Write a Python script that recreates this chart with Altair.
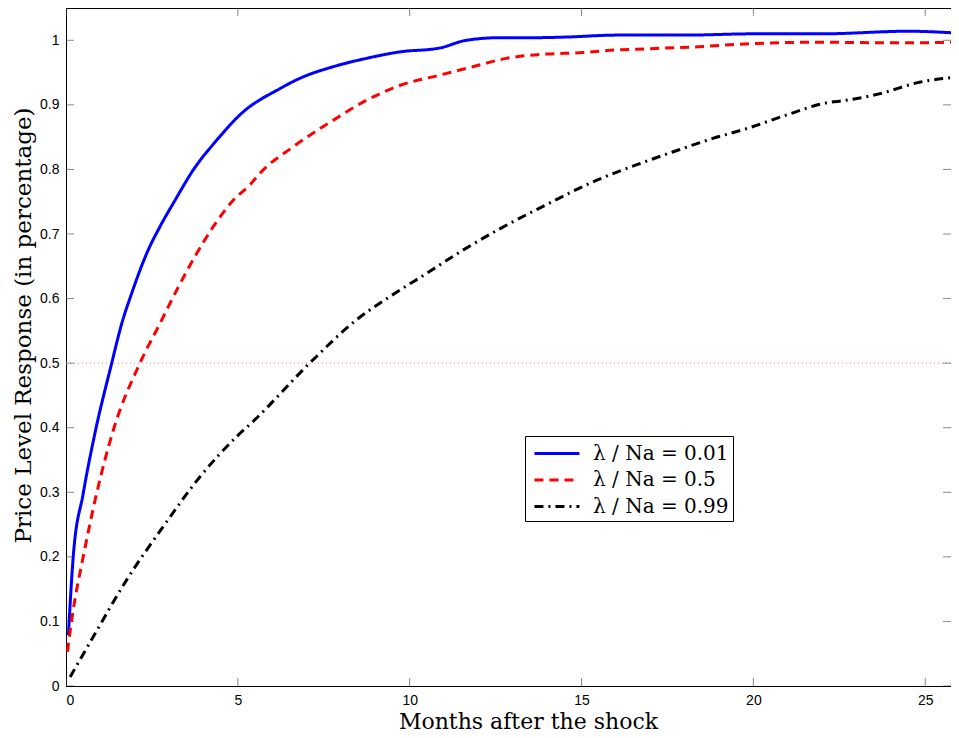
import altair as alt
import pandas as pd

# ---- data ----
blue_x = [0.07, 0.21, 0.50, 0.84, 1.33, 1.62, 1.91, 2.39, 2.73, 3.17, 3.70, 4.38, 5.11, 6.22, 6.80, 7.77, 8.74, 9.71, 10.87, 11.65, 12.62, 13.58, 14.55, 16.01, 18.0, 20.0, 22.0, 24.5, 26.0]
blue_y = [0.079, 0.200, 0.298, 0.391, 0.500, 0.561, 0.608, 0.675, 0.711, 0.752, 0.799, 0.845, 0.887, 0.925, 0.941, 0.959, 0.972, 0.982, 0.988, 1.000, 1.004, 1.004, 1.005, 1.008, 1.008, 1.010, 1.010, 1.014, 1.011]

red_x = [0.04, 0.21, 0.50, 0.89, 1.375, 2.15, 2.73, 3.22, 3.75, 4.28, 4.86, 5.35, 5.64, 6.61, 7.38, 7.77, 8.74, 9.71, 10.87, 11.84, 12.81, 13.78, 15.04, 16.01, 17.0, 18.4, 20.0, 22.0, 24.0, 26.0]
red_y = [0.053, 0.118, 0.200, 0.298, 0.396, 0.500, 0.561, 0.613, 0.665, 0.711, 0.752, 0.776, 0.794, 0.835, 0.863, 0.876, 0.907, 0.930, 0.946, 0.959, 0.972, 0.978, 0.981, 0.985, 0.987, 0.990, 0.995, 0.997, 0.996, 0.997]

black_x = [0.12, 0.79, 1.76, 2.83, 3.90, 4.96, 5.45, 7.09, 8.45, 9.42, 10.49, 11.55, 12.62, 13.85, 15.43, 16.59, 17.65, 18.82, 19.79, 20.95, 22.11, 22.69, 23.66, 24.83, 25.89]
black_y = [0.014, 0.076, 0.164, 0.247, 0.324, 0.386, 0.41, 0.500, 0.567, 0.603, 0.639, 0.675, 0.708, 0.742, 0.783, 0.807, 0.827, 0.848, 0.863, 0.884, 0.903, 0.907, 0.917, 0.935, 0.943]

series_names = ["λ / Na = 0.01", "λ / Na = 0.5", "λ / Na = 0.99"]
series_colors = ["#0000ff", "#ff0000", "#000000"]
series_dash = [[1, 0], [9, 6], [9, 5, 2, 5]]

x_ticks = [0, 5, 10, 15, 20, 25]
y_ticks = [0, 0.1, 0.2, 0.3, 0.4, 0.5, 0.6, 0.7, 0.8, 0.9, 1.0]
x_domain = [0, 25.75]
y_domain = [0, 1.05]
ref_level = 0.5

rows = []
for name, xs, ys in zip(series_names, [blue_x, red_x, black_x], [blue_y, red_y, black_y]):
    for i, (a, b) in enumerate(zip(xs, ys)):
        rows.append({"series": name, "x": a, "y": b, "order": i})
df = pd.DataFrame(rows)

xscale = alt.Scale(domain=x_domain, nice=False, zero=False)
yscale = alt.Scale(domain=y_domain, nice=False, zero=False)

serif = "DejaVu Serif"
sans = "Liberation Sans"

legend = alt.Legend(title=None, orient="none", legendX=459, legendY=428,
                    symbolType="M-0.67,0H3.08", symbolSize=576, symbolStrokeWidth=3,
                    labelFont=serif, labelFontSize=20, labelColor="#000",
                    strokeColor="#000", fillColor="#fff", padding=4,
                    rowPadding=2.5, labelOffset=37, cornerRadius=0)

lines = alt.Chart(df).mark_line(strokeWidth=3, clip=True, interpolate="monotone").encode(
    x=alt.X("x:Q", scale=xscale,
            axis=alt.Axis(values=x_ticks, title="Months after the shock", tickSize=0,
                          labelFont=sans, labelFontSize=14, labelColor="#000",
                          labelPadding=7, titleFont=serif, titleFontSize=22,
                          titleFontWeight="normal", titleColor="#000", titlePadding=4,
                          titleX=462, titleAlign="center",
                          domainColor="#000", grid=False)),
    y=alt.Y("y:Q", scale=yscale,
            axis=alt.Axis(values=y_ticks, format="~g", title="Price Level Response (in percentage)",
                          tickSize=0, labelFont=sans, labelFontSize=14, labelColor="#000",
                          labelPadding=7, titleFont=serif, titleFontSize=23,
                          titleFontWeight="normal", titleColor="#000", titlePadding=4,
                          titleY=317, titleAlign="center",
                          domainColor="#000", grid=False)),
    color=alt.Color("series:N", scale=alt.Scale(domain=series_names, range=series_colors), legend=legend),
    strokeDash=alt.StrokeDash("series:N", scale=alt.Scale(domain=series_names, range=series_dash), legend=legend),
    order="order:Q",
)

ref = alt.Chart(pd.DataFrame({"y": [ref_level]})).mark_rule(
    color="#f08080", strokeDash=[1, 3], strokeWidth=1
).encode(y=alt.Y("y:Q", scale=yscale))

xt = pd.DataFrame({"v": x_ticks})
yt = pd.DataFrame({"v": y_ticks})

tick_style = dict(size=16, thickness=1, color="#555", clip=True)
xt_bottom = alt.Chart(xt).mark_tick(orient="vertical", **tick_style).encode(
    x=alt.X("v:Q", scale=xscale), y=alt.datum(y_domain[0], scale=yscale))
xt_top = alt.Chart(xt).mark_tick(orient="vertical", **tick_style).encode(
    x=alt.X("v:Q", scale=xscale), y=alt.datum(y_domain[1], scale=yscale))
yt_left = alt.Chart(yt).mark_tick(orient="horizontal", **tick_style).encode(
    y=alt.Y("v:Q", scale=yscale), x=alt.datum(x_domain[0], scale=xscale))
yt_right = alt.Chart(yt).mark_tick(orient="horizontal", **tick_style).encode(
    y=alt.Y("v:Q", scale=yscale), x=alt.datum(x_domain[1], scale=xscale))

chart = alt.layer(ref, xt_bottom, xt_top, yt_left, yt_right, lines).properties(
    width=885, height=678,
    autosize=alt.AutoSizeParams(type="none"),
    padding={"left": 58, "top": 0, "right": 0, "bottom": 50},
).configure_view(stroke="#000", strokeWidth=1).configure_axis(domainWidth=1)

chart.save("out.html", embed_options={"renderer": "svg", "actions": False})
